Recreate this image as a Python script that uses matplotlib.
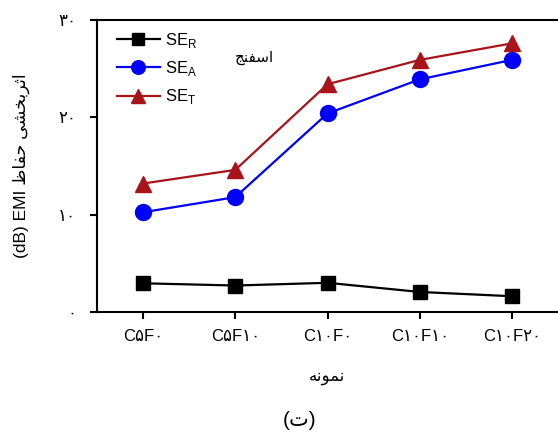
import matplotlib
matplotlib.use('Agg')
import matplotlib.pyplot as plt

plt.rcParams['font.family'] = ['Liberation Sans', 'DejaVu Sans']
plt.rcParams['mathtext.fontset'] = 'custom'
plt.rcParams['mathtext.rm'] = 'Liberation Sans'

# samples (Persian digits)
nemune = ['C\u06f5F\u06f0', 'C\u06f5F\u06f1\u06f0', 'C\u06f1\u06f0F\u06f0',
          'C\u06f1\u06f0F\u06f1\u06f0', 'C\u06f1\u06f0F\u06f2\u06f0']
y_ticks = [0, 10, 20, 30]
y_tick_labels = ['\u06f0', '\u06f1\u06f0', '\u06f2\u06f0', '\u06f3\u06f0']

se_r = [2.95, 2.72, 3.0, 2.06, 1.62]
se_a = [10.25, 11.8, 20.4, 23.9, 25.9]
se_t = [13.2, 14.6, 23.4, 25.9, 27.6]

# Persian text written in shaped (presentation) forms, visual order
esfanj = '\ufe9e\ufee8\ufed4\ufeb3\ufe8d'            # اسفنج
nemune_lbl = '\ufeea\ufee7\ufeee\ufee4\ufee7'        # نمونه
hefaz = '\ufec5\ufe8e\ufed4\ufea3'                   # حفاظ
asarbakhshi = '\ufbfd\ufeb8\ufea8\ufe91\ufeae\ufe9b\ufe8d'  # اثربخشی
ylab = '(dB) EMI ' + hefaz + ' ' + asarbakhshi
panel = '(\ufe95)'                                   # (ت)

fig = plt.figure(figsize=(5.58, 4.4), dpi=100)
ax = fig.add_axes([97/558, 1 - 312/440, 1 - 97/558, 292/440])

x = list(range(len(nemune)))
ax.plot(x, se_r, color='black', lw=1.6, marker='s', ms=9.5, label=r'SE$_\mathrm{R}$')
ax.plot(x, se_a, color='#0000ff', lw=1.6, marker='o', ms=11.5, label=r'SE$_\mathrm{A}$')
ax.plot(x, se_t, color='#a8141a', lw=1.6, marker='^', ms=11.5, label=r'SE$_\mathrm{T}$')

ax.set_xlim(-0.5, 4.5)
ax.set_ylim(0, 30)
ax.set_xticks(x)
ax.set_xticklabels(nemune, fontsize=12)
ax.set_yticks(y_ticks)
ax.set_yticklabels(y_tick_labels, fontsize=12)
ax.tick_params(direction='out', length=5, width=1.5)
ax.tick_params(axis='x', pad=7)
ax.tick_params(axis='y', pad=10)
ax.spines['right'].set_visible(False)
for s in ['left', 'top', 'bottom']:
    ax.spines[s].set_linewidth(1.5)

ax.set_xlabel(nemune_lbl, fontsize=12)
ax.xaxis.set_label_coords(0.5, -0.2)
ax.set_ylabel(ylab, fontsize=12.5)
ax.yaxis.set_label_coords(-0.145, 0.5)

ax.text(1.21, 26.1, esfanj, fontsize=11, ha='center', va='center')

ax.legend(loc='upper left', frameon=False, fontsize=12, handlelength=2.6,
          labelspacing=0.55, handletextpad=0.3, borderaxespad=0,
          markerscale=0.85, bbox_to_anchor=(0.028, 0.985))

fig.text(300/558, 1 - 420/440, panel, fontsize=15, ha='center', va='center')

fig.savefig('out.png', dpi=100)
